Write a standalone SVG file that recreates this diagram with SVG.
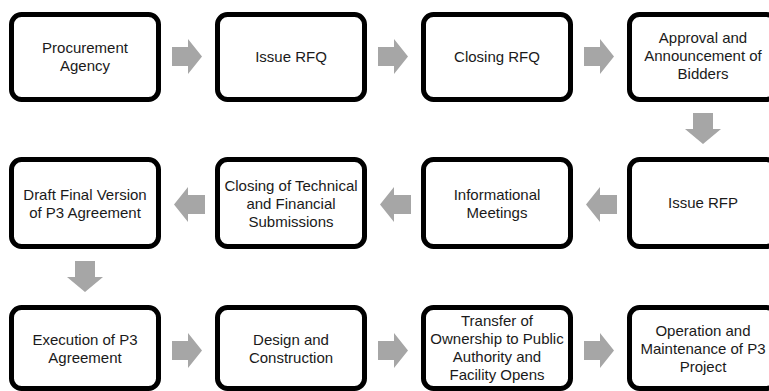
<svg xmlns="http://www.w3.org/2000/svg" width="769" height="391" viewBox="0 0 769 391">
<style>
.box{fill:#fff;stroke:#000;stroke-width:5}
.t{font-family:"Liberation Sans",Arial,sans-serif;font-size:15px;fill:#1a1a1a;text-anchor:middle}
.arr{fill:#a6a6a6}
</style>
<rect width="769" height="391" fill="#fff"/>
<g id="connectors">
<polygon class="arr" points="172,47 188,47 188,39 202,56.5 188,74 188,66 172,66"/>
<polygon class="arr" points="378,47 394,47 394,39 408,56.5 394,74 394,66 378,66"/>
<polygon class="arr" points="584,47 600,47 600,39 614,56.5 600,74 600,66 584,66"/>
<polygon class="arr" points="693,113 713,113 713,129 721,129 703,144 685,129 693,129"/>
<polygon class="arr" points="617,195 600,195 600,187 586,204.5 600,222 600,214 617,214"/>
<polygon class="arr" points="411,195 394,195 394,187 380,204.5 394,222 394,214 411,214"/>
<polygon class="arr" points="205,195 188,195 188,187 174,204.5 188,222 188,214 205,214"/>
<polygon class="arr" points="75,261 95,261 95,277 103,277 85,292 67,277 75,277"/>
<polygon class="arr" points="172,341 188,341 188,333 202,350.5 188,368 188,360 172,360"/>
<polygon class="arr" points="378,341 394,341 394,333 408,350.5 394,368 394,360 378,360"/>
<polygon class="arr" points="584,341 600,341 600,333 614,350.5 600,368 600,360 584,360"/>
</g>
<g id="n1"><rect class="box" x="11.5" y="14.5" width="147" height="85" rx="10"/><text class="t" x="85" y="53">Procurement</text><text class="t" x="85" y="71">Agency</text></g>
<g id="n2"><rect class="box" x="217.5" y="14.5" width="147" height="85" rx="10"/><text class="t" x="291" y="62">Issue RFQ</text></g>
<g id="n3"><rect class="box" x="423.5" y="14.5" width="147" height="85" rx="10"/><text class="t" x="497" y="62">Closing RFQ</text></g>
<g id="n4"><rect class="box" x="629.5" y="14.5" width="147" height="85" rx="10"/><text class="t" x="703" y="43">Approval and</text><text class="t" x="703" y="61">Announcement of</text><text class="t" x="703" y="79">Bidders</text></g>
<g id="n5"><rect class="box" x="629.5" y="159.5" width="147" height="87" rx="10"/><text class="t" x="703" y="208">Issue RFP</text></g>
<g id="n6"><rect class="box" x="423.5" y="159.5" width="147" height="87" rx="10"/><text class="t" x="497" y="200">Informational</text><text class="t" x="497" y="218">Meetings</text></g>
<g id="n7"><rect class="box" x="217.5" y="159.5" width="147" height="87" rx="10"/><text class="t" x="291" y="191">Closing of Technical</text><text class="t" x="291" y="209">and Financial</text><text class="t" x="291" y="227">Submissions</text></g>
<g id="n8"><rect class="box" x="11.5" y="159.5" width="147" height="87" rx="10"/><text class="t" x="85" y="200">Draft Final Version</text><text class="t" x="85" y="218">of P3 Agreement</text></g>
<g id="n9"><rect class="box" x="11.5" y="307.5" width="147" height="81" rx="10"/><text class="t" x="85" y="345">Execution of P3</text><text class="t" x="85" y="363">Agreement</text></g>
<g id="n10"><rect class="box" x="217.5" y="307.5" width="147" height="81" rx="10"/><text class="t" x="291" y="345">Design and</text><text class="t" x="291" y="363">Construction</text></g>
<g id="n11"><rect class="box" x="423.5" y="307.5" width="147" height="81" rx="10"/><text class="t" x="497" y="326">Transfer of</text><text class="t" x="497" y="344">Ownership to Public</text><text class="t" x="497" y="362">Authority and</text><text class="t" x="497" y="380">Facility Opens</text></g>
<g id="n12"><rect class="box" x="629.5" y="307.5" width="147" height="81" rx="10"/><text class="t" x="703" y="336">Operation and</text><text class="t" x="703" y="354">Maintenance of P3</text><text class="t" x="703" y="372">Project</text></g>
</svg>
